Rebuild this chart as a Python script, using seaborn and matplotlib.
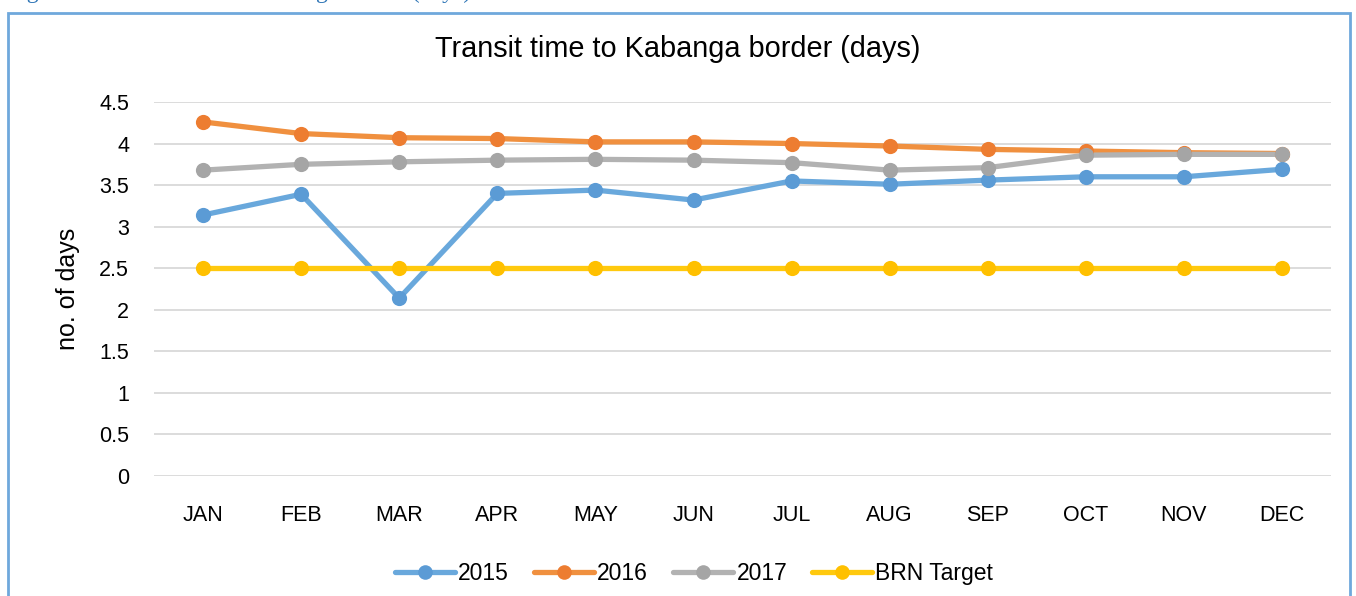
import pandas as pd
import matplotlib.pyplot as plt
import matplotlib.patches as mpatches
from matplotlib.lines import Line2D
import seaborn as sns

# valores
months = ['JAN', 'FEB', 'MAR', 'APR', 'MAY', 'JUN', 'JUL', 'AUG', 'SEP', 'OCT', 'NOV', 'DEC']
days_2015 = [3.14, 3.39, 2.14, 3.40, 3.44, 3.32, 3.55, 3.51, 3.56, 3.60, 3.60, 3.69]
days_2016 = [4.26, 4.12, 4.07, 4.06, 4.02, 4.02, 4.00, 3.97, 3.93, 3.91, 3.89, 3.88]
days_2017 = [3.68, 3.75, 3.78, 3.80, 3.81, 3.80, 3.77, 3.68, 3.71, 3.86, 3.87, 3.87]
brn_target = [2.5] * 12
series_names = ['2015', '2016', '2017', 'BRN Target']

line_colors = ['#69a8dc', '#f0903f', '#b2b2b2', '#ffc90e']
marker_colors = ['#5b9bd5', '#ed7d31', '#a5a5a5', '#ffc000']

rows = []
for name, vals in zip(series_names, [days_2015, days_2016, days_2017, brn_target]):
    for m, v in zip(months, vals):
        rows.append({'Month': m, 'Days': v, 'Series': name})
df = pd.DataFrame(rows)

sns.set_theme(style="white")
plt.rcParams['font.family'] = ['Liberation Sans', 'DejaVu Sans']
plt.rcParams['text.color'] = 'black'
plt.rcParams['axes.labelcolor'] = 'black'

fig = plt.figure(figsize=(13.56, 5.96), dpi=100)
ax = fig.add_axes([0.1136, 0.2013, 0.868, 0.6276])

sns.lineplot(data=df, x='Month', y='Days', hue='Series', palette=line_colors,
             hue_order=series_names, sort=False, linewidth=3.8, legend=False, ax=ax, zorder=3)
for name, mc in zip(series_names, marker_colors):
    sub = df[df['Series'] == name]
    ax.scatter(sub['Month'], sub['Days'], s=120, color=mc, zorder=4, linewidths=0)

ax.set_xlim(-0.5, 11.5)
ax.set_ylim(0, 4.5)
ax.set_yticks([0, 0.5, 1, 1.5, 2, 2.5, 3, 3.5, 4, 4.5])
ax.set_yticklabels(['0', '0.5', '1', '1.5', '2', '2.5', '3', '3.5', '4', '4.5'])
ax.grid(axis='y', color='#d9d9d9', linewidth=1.3, zorder=0)
ax.tick_params(axis='both', length=0, labelsize=15.5, colors='black')
ax.tick_params(axis='y', pad=18)
ax.tick_params(axis='x', pad=21)
for s in ax.spines.values():
    s.set_visible(False)
ax.set_xlabel('')
ax.set_ylabel('no. of days', fontsize=18, labelpad=14)
fig.text(0.5, 0.917, 'Transit time to Kabanga border (days)', ha='center', va='center', fontsize=20.8)

handles = [Line2D([0], [0], color=lc, lw=3.8, marker='o', markersize=10.5,
                  markerfacecolor=mc, markeredgewidth=0) for lc, mc in zip(line_colors, marker_colors)]
fig.legend(handles, series_names, loc='center', bbox_to_anchor=(0.512, 0.037), ncol=4,
           frameon=False, fontsize=16.5, handlelength=2.6, handletextpad=0.15, columnspacing=1.1)

# moldura azul e legenda cortada no topo
fig.patches.append(mpatches.Rectangle((8 / 1356, -0.05), 1342 / 1356, 1.05 - 13 / 596,
                                      transform=fig.transFigure, fill=False,
                                      edgecolor='#6fa8dc', linewidth=2))
fig.text(0.005, 1.012, 'Figure 10: Transit time to Kabanga border (days)', ha='left', va='center',
         fontsize=17, color='#2e75b6', family=['Liberation Serif', 'DejaVu Serif'])

fig.savefig('out.png', dpi=100)
